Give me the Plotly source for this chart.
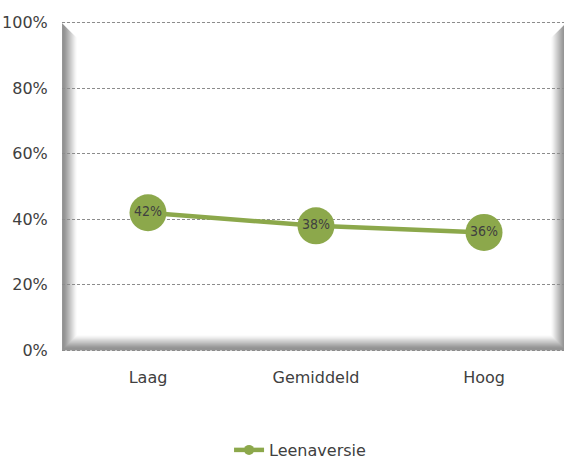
import plotly.graph_objects as go

categories = ["Laag", "Gemiddeld", "Hoog"]
values = [0.42, 0.38, 0.36]
series_name = "Leenaversie"
y_tickvals = [0, 0.2, 0.4, 0.6, 0.8, 1.0]
y_ticktext = ["0%", "20%", "40%", "60%", "80%", "100%"]

GREEN = "#8CA84B"
TEXT = "#404040"
W, H = 564, 461
L, R, T, B = 62, 564, 23, 350  # 0..100% span in pixels

PAD = 0.008  # small range padding so edge gridlines are drawn
ppy = B - T
TA, BA = T - PAD * ppy, B + PAD * ppy  # actual plot-area edges

def px(x):
    return (x - L) / (R - L)

def py(y):
    return (BA - y) / (BA - TA)

fig = go.Figure()

fig.add_trace(go.Scatter(
    x=categories, y=values, mode="lines+markers+text",
    line=dict(color=GREEN, width=4.5),
    marker=dict(size=37, color=GREEN, line=dict(width=0)),
    texttemplate="%{y:.0%}", textposition="middle center",
    textfont=dict(family="DejaVu Sans Condensed, DejaVu Sans", size=14, color=TEXT),
    showlegend=False, cliponaxis=False,
))
# legend entry
fig.add_trace(go.Scatter(
    x=[None], y=[None], mode="lines+markers", name=series_name,
    line=dict(color=GREEN, width=4.5),
    marker=dict(size=10, color=GREEN),
))

# bevel frame (inner shading on left, bottom and right)
grays = [150, 146, 150, 157, 165, 174, 183, 192, 201, 210, 219, 228, 237, 245, 251]
RR = 566
shapes = []
for k in range(len(grays) + 1):
    col = f"rgb({grays[k]},{grays[k]},{grays[k]})" if k < len(grays) else "white"
    pts = [(L, T), (L + k, T + k), (L + k, B - k), (RR - k, B - k), (RR - k, T + k), (RR, T)]
    path = "M " + " L ".join(f"{px(a):.5f},{py(b):.5f}" for a, b in pts) + " Z"
    shapes.append(dict(type="path", path=path, xref="paper", yref="paper",
                       fillcolor=col, line=dict(width=0), layer="below"))

ppu = 168.0
x0 = -(148 - L) / ppu
x1 = x0 + (R - L) / ppu

fig.update_layout(
    width=W, height=H,
    margin=dict(l=L, r=W - R, t=TA, b=H - BA, pad=0, autoexpand=False),
    paper_bgcolor="white", plot_bgcolor="rgba(0,0,0,0)",
    font=dict(family="DejaVu Sans", size=16, color=TEXT),
    shapes=shapes,
    showlegend=True,
    legend=dict(orientation="h", xref="container", x=0.532, xanchor="center",
                yref="container", y=(H - 450) / H, yanchor="middle",
                font=dict(size=16, color=TEXT), bgcolor="rgba(0,0,0,0)"),
    xaxis=dict(type="category", range=[x0, x1], showgrid=False, zeroline=False,
               showline=False, ticks="outside", ticklen=12 - PAD * ppy,
               tickcolor="rgba(0,0,0,0)", tickfont=dict(size=16, color=TEXT)),
    yaxis=dict(range=[-PAD, 1 + PAD], tickvals=y_tickvals, ticktext=y_ticktext,
               showgrid=True, gridcolor="#8c8c8c", gridwidth=1, griddash="3px,2px",
               zeroline=False, showline=False, ticks="outside", ticklen=10,
               tickcolor="rgba(0,0,0,0)", tickfont=dict(size=16, color=TEXT)),
)

fig.write_html(
    "out.html",
    config={"displayModeBar": False},
    post_script="document.body.style.margin='0px';document.body.style.overflow='hidden';",
)
